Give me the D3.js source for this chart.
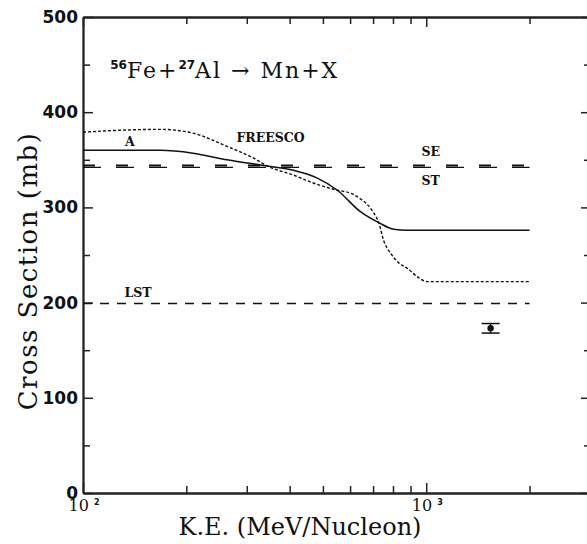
<!DOCTYPE html>
<html>
<head>
<meta charset="utf-8">
<script src="https://cdn.jsdelivr.net/npm/d3@7"></script>
<style>
  body { margin: 0; background: #fff; }
  .serif { font-family: "DejaVu Serif", serif; }
</style>
</head>
<body>
<div id="chart"></div>
<script>
// model A (solid line)
const energyA = [100, 168, 209, 263, 344, 410, 480, 551, 643, 727, 804, 880, 1000, 2000];
const sigmaA  = [360, 360, 357, 350, 343.5, 339, 331, 318, 295.5, 284, 277, 276, 276, 276];

// FREESCO (dotted line)
const energyF = [100, 128, 168, 209, 263, 313, 344, 410, 469, 551, 601, 643, 674, 701, 727, 752, 787, 830, 880, 952, 1007, 2000];
const sigmaF  = [379, 381, 382, 378, 364, 352, 343.5, 334, 325.6, 318, 315, 309, 303, 295, 284, 265, 252, 242, 236, 226, 222, 222];

// constant formulas
const flatNames  = ["SE", "ST", "LST"];
const flatValues = [344, 342, 199];
const flatRange  = [100, 2000];

// measurement
const dataE = [1540];
const dataSigma = [173];
const dataErr = [5];

const yMajor = [0, 100, 200, 300, 400, 500];
const yMinor = [50, 150, 250, 350, 450];
const xMajor = [100, 1000];
const xMinor = [200, 300, 400, 500, 600, 700, 800, 900, 2000];

const width = 587, height = 544;
const pLeft = 83, pTop = 17, pRight = 590, pBottom = 493;

let svg = d3.select("#chart").append("svg")
    .attr("width", width)
    .attr("height", height);

let x = d3.scaleLog().domain([100, 3000]).range([pLeft, pRight]);
let y = d3.scaleLinear().domain([0, 500]).range([pBottom, pTop]);

const axisColor = "#222";

// frame with ticks (all inward)
function addAxis(axis, tx, ty) {
    let g = svg.append("g")
        .attr("transform", `translate(${tx},${ty})`)
        .call(axis);
    g.select(".domain").attr("stroke", axisColor).attr("stroke-width", 1.8);
    g.selectAll(".tick line").attr("stroke", axisColor).attr("stroke-width", 1.5);
    return g;
}

// left axis, major with labels
let gl = addAxis(d3.axisLeft(y).tickValues(yMajor).tickSize(-10).tickPadding(5).tickSizeOuter(0), pLeft, 0);
gl.selectAll(".tick text")
    .attr("font-family", "DejaVu Sans, sans-serif")
    .attr("font-weight", "bold")
    .attr("font-size", 17)
    .attr("fill", "#111");
addAxis(d3.axisLeft(y).tickValues(yMinor).tickSize(-7).tickFormat("").tickSizeOuter(0), pLeft, 0);

// right axis
addAxis(d3.axisRight(y).tickValues(yMajor).tickSize(-9).tickFormat("").tickSizeOuter(0), pRight, 0);
addAxis(d3.axisRight(y).tickValues(yMinor).tickSize(-6).tickFormat("").tickSizeOuter(0), pRight, 0);

// bottom axis
addAxis(d3.axisBottom(x).tickValues(xMajor).tickSize(-10).tickFormat("").tickSizeOuter(0), 0, pBottom);
addAxis(d3.axisBottom(x).tickValues(xMinor).tickSize(-7).tickFormat("").tickSizeOuter(0), 0, pBottom);

// top axis
addAxis(d3.axisTop(x).tickValues(xMajor).tickSize(-10).tickFormat("").tickSizeOuter(0), 0, pTop);
addAxis(d3.axisTop(x).tickValues(xMinor).tickSize(-7).tickFormat("").tickSizeOuter(0), 0, pTop);

// x tick labels 10^2, 10^3
let xl = svg.selectAll(".xlab")
    .data(xMajor)
    .enter()
    .append("text")
    .attr("class", "xlab serif")
    .attr("x", d => x(d) + 1)
    .attr("y", pBottom + 18)
    .attr("text-anchor", "middle")
    .attr("font-size", 16)
    .attr("fill", "#111");
xl.append("tspan").text("10 ");
xl.append("tspan")
    .attr("dy", -6)
    .attr("font-size", 8)
    .attr("font-weight", "bold")
    .attr("font-family", "DejaVu Sans, sans-serif")
    .text(d => Math.round(Math.log10(d)));

// axis titles
svg.append("text")
    .attr("class", "serif")
    .attr("transform", `translate(37, 271) rotate(-90)`)
    .attr("text-anchor", "middle")
    .attr("font-size", 26)
    .attr("letter-spacing", 1.5)
    .attr("fill", "#111")
    .text("Cross Section (mb)");

svg.append("text")
    .attr("class", "serif")
    .attr("x", 300)
    .attr("y", 535)
    .attr("text-anchor", "middle")
    .attr("font-size", 24)
    .attr("fill", "#111")
    .text("K.E. (MeV/Nucleon)");

// curves
let line = d3.line()
    .x(d => x(d[0]))
    .y(d => y(d[1]))
    .curve(d3.curveMonotoneX);

svg.append("path")
    .datum(energyA.map((e, i) => [e, sigmaA[i]]))
    .attr("d", line)
    .attr("fill", "none")
    .attr("stroke", "#111")
    .attr("stroke-width", 1.5);

svg.append("path")
    .datum(energyF.map((e, i) => [e, sigmaF[i]]))
    .attr("d", line)
    .attr("fill", "none")
    .attr("stroke", "#111")
    .attr("stroke-width", 1.4)
    .attr("stroke-dasharray", "3,2");

// flat lines
const dashes = ["12,21", "18,15", "9,8"];
svg.selectAll(".flat")
    .data(flatValues)
    .enter()
    .append("line")
    .attr("class", "flat")
    .attr("x1", x(flatRange[0]))
    .attr("x2", x(flatRange[1]))
    .attr("y1", d => y(d))
    .attr("y2", d => y(d))
    .attr("stroke", "#111")
    .attr("stroke-width", (d, i) => i === 0 ? 2 : 1.4)
    .attr("stroke-dasharray", (d, i) => dashes[i]);

// data point with error bar
dataE.forEach((e, i) => {
    let cx = x(e);
    svg.append("line")
        .attr("x1", cx).attr("x2", cx)
        .attr("y1", y(dataSigma[i] - dataErr[i]))
        .attr("y2", y(dataSigma[i] + dataErr[i]))
        .attr("stroke", "#111").attr("stroke-width", 1.3);
    [dataSigma[i] - dataErr[i], dataSigma[i] + dataErr[i]].forEach(v => {
        svg.append("line")
            .attr("x1", cx - 9).attr("x2", cx + 9)
            .attr("y1", y(v)).attr("y2", y(v))
            .attr("stroke", "#111").attr("stroke-width", 1.5);
    });
    svg.append("circle")
        .attr("cx", cx).attr("cy", y(dataSigma[i]))
        .attr("r", 3.2)
        .attr("fill", "#111");
});

// labels on curves
const labelText = ["A", "FREESCO", "SE", "ST", "LST"];
const labelE = [137, 280, 968, 968, 132];
const labelSigma = [364.5, 368.7, 354, 323.5, 206];
const labelAnchor = ["middle", "start", "start", "start", "start"];

svg.selectAll(".lab")
    .data(labelText)
    .enter()
    .append("text")
    .attr("class", "lab serif")
    .attr("x", (d, i) => x(labelE[i]))
    .attr("y", (d, i) => y(labelSigma[i]))
    .attr("text-anchor", (d, i) => labelAnchor[i])
    .attr("font-size", 12.5)
    .attr("font-weight", "bold")
    .attr("fill", "#111")
    .text(d => d);

// reaction title
let title = svg.append("text")
    .attr("class", "serif")
    .attr("x", x(120))
    .attr("y", y(436))
    .attr("font-size", 22)
    .attr("letter-spacing", 2)
    .attr("fill", "#111");
const sup = { "font-size": 12, "font-weight": "bold", "font-family": "DejaVu Sans, sans-serif", "letter-spacing": 0 };
function addSup(t) {
    let s = title.append("tspan").attr("dy", -9).text(t);
    Object.entries(sup).forEach(([k, v]) => s.attr(k, v));
}
addSup("56");
title.append("tspan").attr("dy", 9).text("Fe+");
addSup("27");
title.append("tspan").attr("dy", 9).text("Al \u2192  Mn+X");
</script>
</body>
</html>
